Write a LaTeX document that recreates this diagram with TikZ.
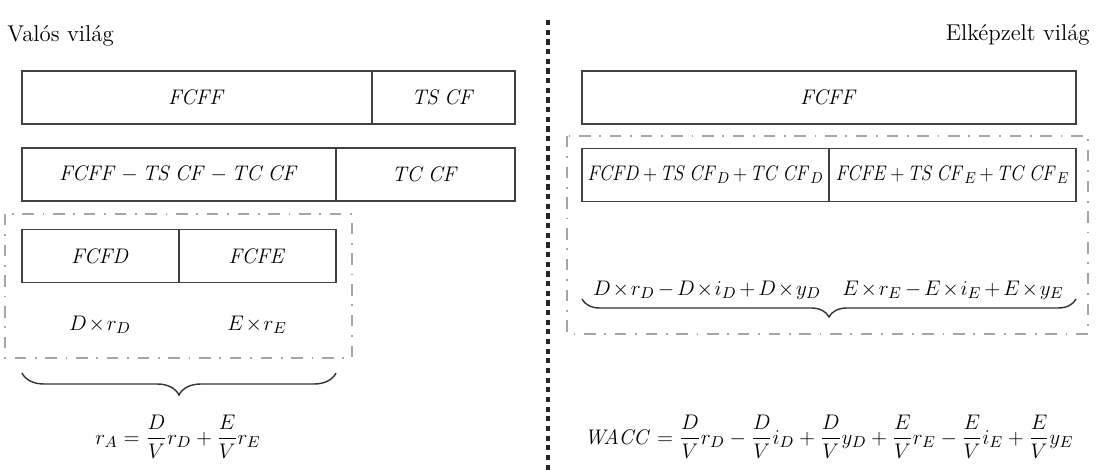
\documentclass[tikz,border=0pt,12pt]{standalone}
\usepackage{amsmath}
\usepackage{graphicx}
\usetikzlibrary{positioning,decorations.pathreplacing}

\newcommand{\tm}{\mskip1.5mu{\times}\mskip1.5mu}

\tikzset{
  cell/.style={draw=black!75, line width=0.9pt, minimum height=1.06cm, inner sep=0pt, outer sep=0pt, anchor=west},
  grpframe/.style={draw=black!35, line width=1.2pt, dash pattern=on 6.5pt off 5pt on 1pt off 5pt},
  midline/.style={draw=black!85, line width=1.8pt, dash pattern=on 3pt off 2.5pt},
  curly/.style={decorate, decoration={brace, mirror, amplitude=#1}, draw=black!80, line width=0.8pt},
  tight/.style={execute at begin node={\medmuskip=2.5mu plus 1mu minus 1mu}},
}

\begin{document}
\begin{tikzpicture}[x=0.02cm, y=-0.02cm, every node/.style={font=\fontsize{13}{15}\selectfont}]
\useasboundingbox (0,0) rectangle (1098,472);

% titles
\node[anchor=base west, inner sep=0pt] (valos) at (7,42) {Valós világ};
\node[anchor=base east, inner sep=0pt] (elkep) at (1090,41) {Elképzelt világ};

% dividing line
\draw[midline] (548,20) -- (548,472);

% real world
\node[cell, minimum width=7cm] (fcffL) at (22,97.5) {$\mathit{FCFF}$};
\node[cell, minimum width=2.86cm] (tscf) at (fcffL.east) {$\mathit{TS\,CF}$};

\node[cell, minimum width=6.28cm] (netcf) at (22,174.5) {$\mathit{FCFF}-\mathit{TS\,CF}-\mathit{TC\,CF}$};
\node[cell, minimum width=3.58cm] (tccf) at (netcf.east) {$\mathit{TC\,CF}$};

\draw[grpframe] (5,214) rectangle (352,358);
\node[cell, minimum width=3.14cm] (fcfd) at (22,256) {$\mathit{FCFD}$};
\node[cell, minimum width=3.14cm] (fcfe) at (fcfd.east) {$\mathit{FCFE}$};
\node (drd) at (100,325) {$D\tm r_D$};
\node (ere) at (257,325) {$E\tm r_E$};

\draw[curly=0.44cm] (22,373) -- (336,373);
\node (ra) at (178,437) {$r_A=\dfrac{D}{V}r_D+\dfrac{E}{V}r_E$};

% imagined world
\node[cell, minimum width=9.88cm] (fcffR) at (582,97.5) {$\mathit{FCFF}$};

\draw[grpframe] (567,136) rectangle (1088,334);
\node[cell, tight, minimum width=4.94cm] (fcfdR) at (582,175) {\scalebox{0.9}[1]{$\mathit{FCFD}+\mathit{TS\,CF}_D+\mathit{TC\,CF}_D$}};
\node[cell, tight, minimum width=4.94cm] (fcfeR) at (fcfdR.east) {\scalebox{0.9}[1]{$\mathit{FCFE}+\mathit{TS\,CF}_E+\mathit{TC\,CF}_E$}};
\node[tight] (dsum) at (707,290) {$D\tm r_D-D\tm i_D+D\tm y_D$};
\node[tight] (esum) at (953,290) {$E\tm r_E-E\tm i_E+E\tm y_E$};

\draw[curly=0.36cm] (582,299) -- (1076,299);
\node (wacc) at (829,437) {$\mathit{WACC}=\dfrac{D}{V}r_D-\dfrac{D}{V}i_D+\dfrac{D}{V}y_D+\dfrac{E}{V}r_E-\dfrac{E}{V}i_E+\dfrac{E}{V}y_E$};
\end{tikzpicture}
\end{document}
